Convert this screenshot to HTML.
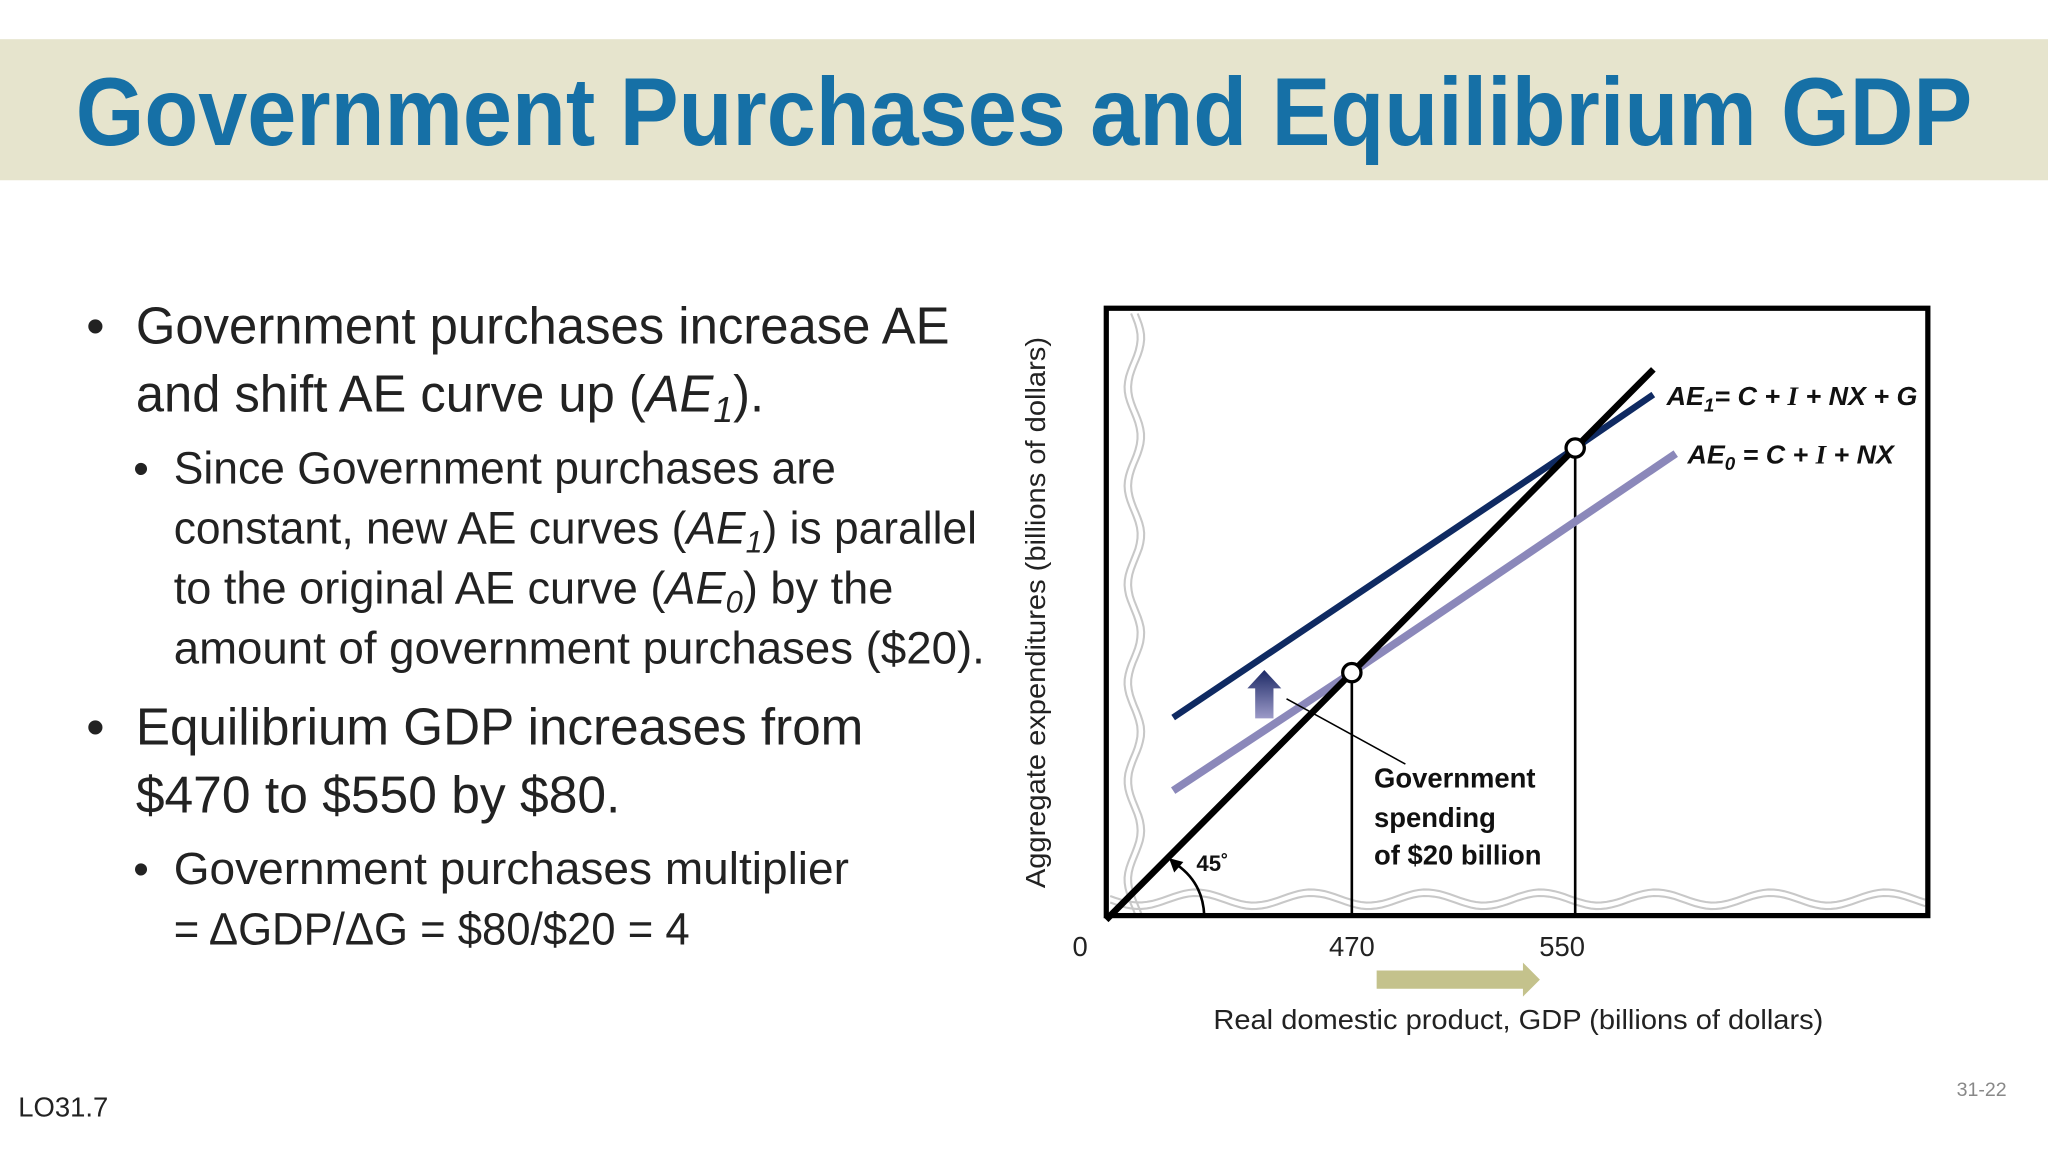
<!DOCTYPE html>
<html><head><meta charset="utf-8"><style>html,body{margin:0;padding:0;background:#fff}svg{display:block}</style></head>
<body>
<svg width="2048" height="1152" viewBox="0 0 1568 882" xmlns="http://www.w3.org/2000/svg" font-family="'Liberation Sans', sans-serif">
<defs>
<linearGradient id="ug" x1="0" y1="0" x2="0" y2="1"><stop offset="0" stop-color="#1d2a66"/><stop offset="1" stop-color="#9c9ac8"/></linearGradient>
</defs>
<rect x="0" y="30" width="1568" height="108" fill="#e6e4cd"/>
<text x="58" y="111" font-size="74" font-weight="bold" fill="#1670a6" textLength="1452" lengthAdjust="spacingAndGlyphs">Government Purchases and Equilibrium GDP</text>

<g fill="#222">
<text x="66" y="263" font-size="40">•</text>
<text x="104" y="263" font-size="40" textLength="623" lengthAdjust="spacingAndGlyphs">Government purchases increase AE</text>
<text x="104" y="315" font-size="40" textLength="481" lengthAdjust="spacingAndGlyphs">and shift AE curve up (<tspan font-style="italic">AE</tspan><tspan font-style="italic" font-size="28" dy="8">1</tspan><tspan dy="-8">).</tspan></text>
<text x="102" y="370" font-size="34">•</text>
<text x="133" y="370" font-size="35" textLength="507" lengthAdjust="spacingAndGlyphs">Since Government purchases are</text>
<text x="133" y="416" font-size="35" textLength="615" lengthAdjust="spacingAndGlyphs">constant, new AE curves (<tspan font-style="italic">AE</tspan><tspan font-style="italic" font-size="24" dy="7">1</tspan><tspan dy="-7">) is parallel</tspan></text>
<text x="133" y="462" font-size="35" textLength="551" lengthAdjust="spacingAndGlyphs">to the original AE curve (<tspan font-style="italic">AE</tspan><tspan font-style="italic" font-size="24" dy="7">0</tspan><tspan dy="-7">) by the</tspan></text>
<text x="133" y="508" font-size="35" textLength="621" lengthAdjust="spacingAndGlyphs">amount of government purchases ($20).</text>
<text x="66" y="570" font-size="40">•</text>
<text x="104" y="570" font-size="40" textLength="557" lengthAdjust="spacingAndGlyphs">Equilibrium GDP increases from</text>
<text x="104" y="622" font-size="40" textLength="371" lengthAdjust="spacingAndGlyphs">$470 to $550 by $80.</text>
<text x="102" y="677" font-size="34">•</text>
<text x="133" y="677" font-size="35" textLength="517" lengthAdjust="spacingAndGlyphs">Government purchases multiplier</text>
<text x="133" y="723" font-size="35" textLength="395" lengthAdjust="spacingAndGlyphs">= ΔGDP/ΔG = $80/$20 = 4</text>
</g>
<text x="14" y="855" font-size="21" fill="#222">LO31.7</text>
<text x="1498" y="839" font-size="15" fill="#888">31-22</text>

<g id="chart"></g>
<script>
var equilibriumX = [470, 550];
var line45X = [382, 578];
var ae0X = [406, 470, 586];
var ae0Y = [428, 470, 548];
var ae1X = [406, 550, 578];
var ae1Y = [454, 550, 569];
var tickLabels = ['470', '550'];

var NS = 'http://www.w3.org/2000/svg';
var g = document.getElementById('chart');
function xs(v){ return 1035 + (v - 470) * 2.1375; }
function ys(v){ return 515 - (v - 470) * 2.15; }
function mk(tag, attrs, parent){ var e = document.createElementNS(NS, tag); for (var k in attrs) e.setAttribute(k, attrs[k]); (parent||g).appendChild(e); return e; }

// wavy break lines
var d1 = '', d2 = '';
for (var y = 240; y <= 700; y += 4) { var x = 866 + 5 * Math.sin((y - 240) / 12); d1 += (y === 240 ? 'M' : 'L') + x.toFixed(1) + ',' + y; d2 += (y === 240 ? 'M' : 'L') + (x + 5).toFixed(1) + ',' + y; }
var w1 = mk('path', {d: d1 + ' ' + d2, fill: 'none', stroke: '#c8c8c8', 'stroke-width': 1.6});


var d3 = '', d4 = '';
for (var x2 = 850; x2 <= 1474; x2 += 4) { var yy = 686 + 5 * Math.sin((x2 - 850) / 14); d3 += (x2 === 850 ? 'M' : 'L') + x2 + ',' + yy.toFixed(1); d4 += (x2 === 850 ? 'M' : 'L') + x2 + ',' + (yy + 5).toFixed(1); }
var w2 = mk('path', {d: d3 + ' ' + d4, fill: 'none', stroke: '#c8c8c8', 'stroke-width': 1.6});



// frame
var fr = mk('rect', {x: 847, y: 236, width: 629, height: 465, fill: 'none', stroke: '#000', 'stroke-width': 4});



// drop lines
equilibriumX.forEach(function(v, i){
  var l = mk('line', {x1: xs(v), y1: ys(v), x2: xs(v), y2: 701, stroke: '#000', 'stroke-width': 2});
  
  
  var t = mk('text', {x: xs(v) - (i ? 10 : 0), y: 732, 'font-size': 21, 'text-anchor': 'middle', fill: '#222'});
  t.textContent = tickLabels[i];
  
  
});

function poly(xsArr, ysArr){ return xsArr.map(function(v, i){ return xs(v).toFixed(1) + ',' + ys(ysArr[i]).toFixed(1); }).join(' '); }
var a0 = mk('polyline', {points: poly(ae0X, ae0Y), fill: 'none', stroke: '#8b88ba', 'stroke-width': 6});


var a1 = mk('polyline', {points: poly(ae1X, ae1Y), fill: 'none', stroke: '#0f2a62', 'stroke-width': 5});


var l45 = mk('line', {x1: xs(line45X[0]), y1: ys(line45X[0]), x2: xs(line45X[1]), y2: ys(line45X[1]), stroke: '#000', 'stroke-width': 5});



equilibriumX.forEach(function(v, i){
  var c = mk('circle', {cx: xs(v), cy: ys(v), r: 7, fill: '#fff', stroke: '#000', 'stroke-width': 2.5});
  
  
});
</script>

<g>
<polygon points="961,550 961,527 955,527 968,513 981,527 975,527 975,550" fill="url(#ug)"/>
<line x1="985" y1="535" x2="1076" y2="585" stroke="#000" stroke-width="1.2"/>
<g font-size="21" font-weight="bold" fill="#111">
<text x="1052" y="603">Government</text><text x="1052" y="633">spending</text><text x="1052" y="662">of $20 billion</text>
</g>
<path d="M922,701 Q921,676 901,662" fill="none" stroke="#000" stroke-width="2"/>
<polygon points="895,657 906,660 899,668" fill="#000"/>
<text x="916" y="667" font-size="17" font-weight="bold" fill="#111">45˚</text>
<text x="1276" y="310" font-size="20" font-weight="bold" font-style="italic" fill="#111" textLength="192" lengthAdjust="spacingAndGlyphs">AE<tspan font-size="14" dy="5">1</tspan><tspan dy="-5">= C + </tspan><tspan font-family="'Liberation Serif', serif">I</tspan> + NX + G</text>
<text x="1292" y="355" font-size="20" font-weight="bold" font-style="italic" fill="#111" textLength="158" lengthAdjust="spacingAndGlyphs">AE<tspan font-size="14" dy="5">0</tspan><tspan dy="-5"> = C + </tspan><tspan font-family="'Liberation Serif', serif">I</tspan> + NX</text>
<text x="827" y="732" font-size="21" text-anchor="middle" fill="#222">0</text>
<polygon points="1054,743 1166,743 1166,737 1179,750 1166,763 1166,757 1054,757" fill="#c4c28c"/>
<text x="929" y="788" font-size="21" fill="#222" textLength="467" lengthAdjust="spacingAndGlyphs">Real domestic product, GDP (billions of dollars)</text>
<text transform="translate(800,680) rotate(-90)" font-size="21" fill="#222" textLength="422" lengthAdjust="spacingAndGlyphs">Aggregate expenditures (billions of dollars)</text>
</g>
</svg>
</body></html>
